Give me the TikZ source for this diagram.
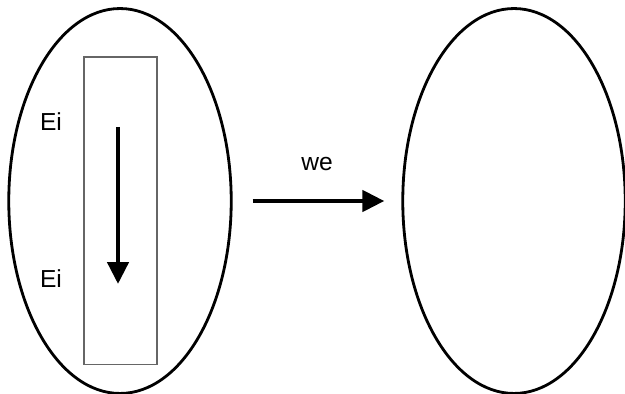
\documentclass[tikz,border=0pt]{standalone}
\usepackage{fontspec}
\setmainfont{Liberation Sans}
\usepackage{tikz}
\usetikzlibrary{
  shapes.geometric,
  arrows.meta
}

\begin{document}
\begin{tikzpicture}[%スタイル
          x=0.02cm,y=-0.02cm,
          set/.style={
              draw,
              ellipse,
              line width=1.6pt,
              minimum width=4.45cm,
              minimum height=7.7cm,
              inner sep=0pt
            },label text/.style={
              font=\fontsize{14}{16}\selectfont
            },big arrow/.style={
              line width=2.6pt,
              -{Triangle[length=0.44cm,width=0.42cm]}
            }
        ]

        % 範囲
        \useasboundingbox (0,0) rectangle (625,394);

        % 楕円
        \node[set] (src) at (120,201) {};
        \node[set] (dst) at (514,201) {};

        % 長方形
        \node[
          draw=black!60,
          line width=0.6pt,
          minimum width=1.46cm,
          minimum height=6.16cm,
          inner sep=0pt
        ] (bar) at (120.5,211) {};

        % ラベル
        \node[label text] (ei_top) at (51,122) {Ei};
        \node[label text] (ei_bot) at (51,279) {Ei};

        % 縦の矢印
        \coordinate (arr_top) at (118,127);
        \coordinate (arr_bot) at (118,284);
        \draw[big arrow] (arr_top) -- (arr_bot);

        % 横の矢印
        \draw[
          big arrow,
          shorten <=0.4cm,
          shorten >=0.34cm
        ] (src.east) -- (dst.west) node[midway,above=0.45cm,label text] (we) {we};
      \end{tikzpicture}
\end{document}
